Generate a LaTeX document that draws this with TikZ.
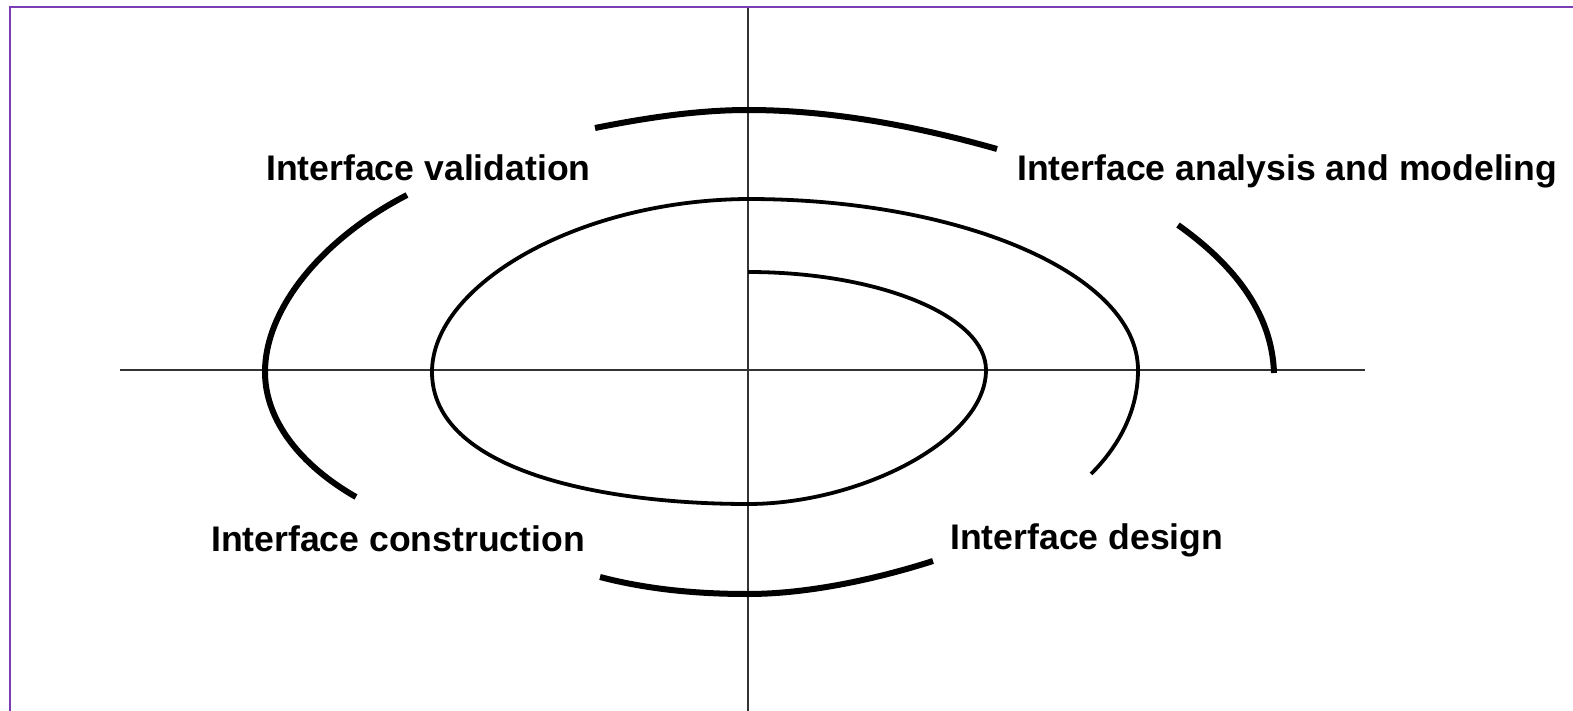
\documentclass[tikz,border=0pt]{standalone}
\usepackage{fontspec}
\setmainfont{Liberation Sans}
\definecolor{framepurple}{HTML}{7A3DB3}
\tikzset{
  axisline/.style={draw=black!80, line width=2.8pt},
  spiralline/.style={draw=black, line width=3.8pt},
  outerarc/.style={draw=black, line width=6pt},
  framestyle/.style={draw=framepurple, line width=2.6pt},
  lbl/.style={anchor=base west, inner sep=0pt, font=\fontsize{35.6}{42}\selectfont\bfseries}
}
\begin{document}
\begin{tikzpicture}[x=1pt,y=-1pt]
\useasboundingbox (0,0) rectangle (1573,711);
% frame (only top and left edges are visible)
\draw[framestyle] (10,711) -- (10,7) -- (1573,7);
% axes
\coordinate (vtop) at (748,8);
\coordinate (vbot) at (748,711);
\coordinate (hl) at (120,370);
\coordinate (hr) at (1365,370);
\draw[axisline] (vtop) -- (vbot);
\draw[axisline] (hl) -- (hr);
% spiral
\draw[spiralline] (748,272)
  .. controls (879,272) and (986,316) .. (986,370)
  .. controls (986,440) and (860,504) .. (748,504)
  .. controls (600,504) and (432,470) .. (432,372)
  .. controls (432,285) and (578,200) .. (748,199)
  .. controls (963,199) and (1138,275) .. (1138,370)
  .. controls (1138,415) and (1115,450) .. (1091,474);
% outer arcs
\draw[outerarc] (595,128) .. controls (650,117) and (700,110) .. (748,110)
  .. controls (840,110) and (930,130) .. (997,149);
\draw[outerarc] (1178,225) .. controls (1230,262) and (1272,310) .. (1274,373);
\draw[outerarc] (407,195) .. controls (320,240) and (265,310) .. (265,372)
  .. controls (265,420) and (300,465) .. (356,497);
\draw[outerarc] (600,577) .. controls (650,590) and (700,594) .. (748,594)
  .. controls (810,594) and (880,578) .. (933,561);
% labels
\node[lbl] (validation) at (266,181) {Interface validation};
\node[lbl] (analysis) at (1017,181) {Interface analysis and modeling};
\node[lbl] (construction) at (211,551) {Interface construction};
\node[lbl] (design) at (950,549) {Interface design};
\end{tikzpicture}
\end{document}
